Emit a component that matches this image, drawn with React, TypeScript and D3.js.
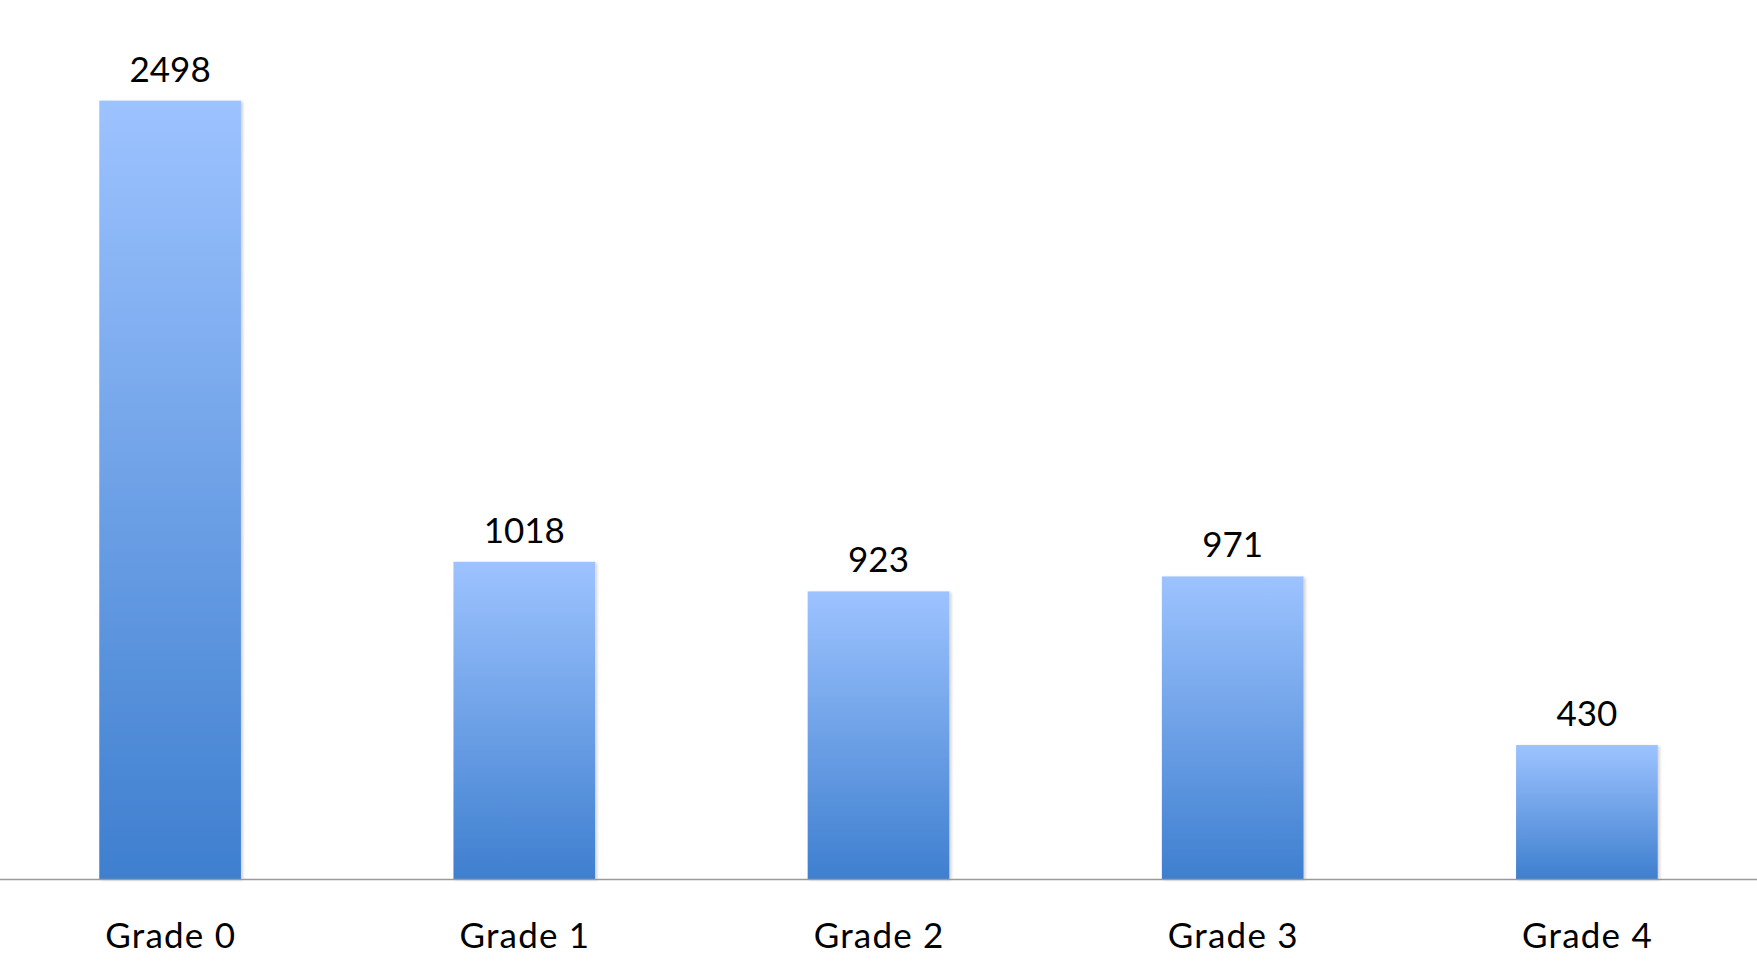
import React from "react";
import * as d3 from "d3";

const categories = ["Grade 0", "Grade 1", "Grade 2", "Grade 3", "Grade 4"];
const values = [2498, 1018, 923, 971, 430];

const W = 1757;
const H = 964;

export default function App() {
  const x = d3
    .scaleBand<string>()
    .domain(categories)
    .range([-7, 1764])
    .paddingInner(0.6)
    .paddingOuter(0.3);
  const y = d3.scaleLinear().domain([0, 2500]).range([879, 100]);
  const font = "Lato, 'Open Sans', sans-serif";

  return (
    <svg
      width={W}
      height={H}
      style={{ position: "absolute", left: 0, top: 0, background: "#fff" }}
    >
      <defs>
        <linearGradient id="barGrad" x1="0" y1="0" x2="0" y2="1">
          <stop offset="0%" stopColor="#9DC3FF" />
          <stop offset="100%" stopColor="#3E7FCF" />
        </linearGradient>
        <filter id="shadow" x="-10%" y="-10%" width="130%" height="120%">
          <feGaussianBlur in="SourceAlpha" stdDeviation="1.5" />
          <feOffset dx="2" dy="1" result="blur" />
          <feComponentTransfer>
            <feFuncA type="linear" slope="0.18" />
          </feComponentTransfer>
          <feMerge>
            <feMergeNode />
            <feMergeNode in="SourceGraphic" />
          </feMerge>
        </filter>
      </defs>
      {categories.map((c, i) => {
        const bx = x(c)!;
        const bw = x.bandwidth();
        const top = y(values[i]);
        return (
          <g key={c}>
            <rect
              x={bx}
              y={top}
              width={bw}
              height={y(0) - top}
              fill="url(#barGrad)"
              filter="url(#shadow)"
            />
            <text
              x={bx + bw / 2}
              y={top - 19}
              textAnchor="middle"
              fontFamily={font}
              fontSize={35}
              fill="#000"
            >
              {values[i]}
            </text>
            <text
              x={bx + bw / 2 + 0.6}
              y={948}
              textAnchor="middle"
              fontFamily={font}
              fontSize={35}
              letterSpacing={1.2}
              fill="#000"
            >
              {c}
            </text>
          </g>
        );
      })}
      <line x1={0} x2={W} y1={y(0) + 0.5} y2={y(0) + 0.5} stroke="#9a9a9a" strokeWidth={1.5} />
    </svg>
  );
}
